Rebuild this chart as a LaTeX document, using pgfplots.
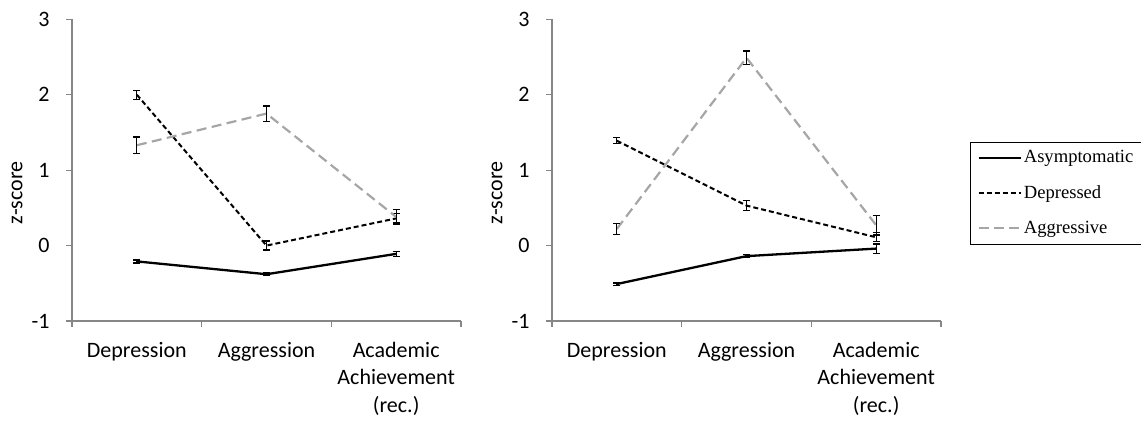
\documentclass[border=0pt]{standalone}
\usepackage{pgfplots}
\pgfplotsset{compat=1.18}
\usepackage{fontspec}
\setmainfont{Carlito}
\newfontfamily\legfont{Liberation Serif}
\definecolor{axgray}{HTML}{868686}
\definecolor{aggray}{HTML}{A6A6A6}

\pgfplotsset{
 panel/.style={
  scale only axis, width=194.5pt, height=150.85pt,
  xmin=0.5, xmax=3.5, ymin=-1, ymax=3,
  axis lines*=left,
  axis line style={axgray, line width=0.6pt},
  xtick={1,2,3},
  xticklabels={Depression, Aggression, Academic\\Achievement\\(rec.)},
  minor xtick={0.5,1.5,2.5,3.5},
  ytick={-1,0,1,2,3}, yticklabels={-1,0,1,2,3},
  tick align=outside,
  tick style={axgray, line width=0.6pt},
  major tick length=3pt, minor tick length=3pt,
  major x tick style={draw=none},
  ticklabel style={font=\fontsize{11}{13.7}\selectfont},
  xticklabel style={align=center, anchor=north, yshift=-4pt},
  ylabel={z-score},
  ylabel style={font=\fontsize{11}{13}\selectfont, at={(axis description cs:-0.1414,0.424)}, anchor=center},
  clip=false,
 },
 eb/.style={error bars/.cd, y dir=both, y explicit,
   error bar style={black, solid, line width=0.6pt},
   error mark options={rotate=90, mark size=1.8pt, black, solid, line width=0.6pt}},
 asym/.style={black, solid, line width=1.15pt, no marks, eb},
 dep/.style={black, line width=1pt, dash pattern=on 2.5pt off 1.5pt, no marks, eb},
 agg/.style={aggray, line width=1.1pt, dash pattern=on 5pt off 2.7pt, no marks, eb},
}

\begin{document}
\begin{tikzpicture}
\path[use as bounding box] (0pt,0pt) rectangle (570.5pt,211pt);

\begin{axis}[panel, at={(36pt,50.5pt)}, anchor=south west,
  every y tick label/.append style={anchor=east, inner xsep=8pt}]
\addplot+[asym] coordinates {(1,-0.21) +- (0,0.02) (2,-0.38) +- (0,0.02) (3,-0.11) +- (0,0.03)};
\addplot+[dep] coordinates {(1,2.00) +- (0,0.06) (2,0.00) +- (0,0.06) (3,0.36) +- (0,0.06)};
\addplot+[agg] coordinates {(1,1.33) +- (0,0.11) (2,1.75) +- (0,0.10) (3,0.38) +- (0,0.10)};
\end{axis}

\begin{axis}[panel, at={(276pt,50.5pt)}, anchor=south west,
  every y tick label/.append style={anchor=east, inner xsep=8pt},
  legend cell align=left,
  legend style={at={(axis description cs:1.0746,0.5933)}, anchor=north west,
    draw=black, line width=0.5pt, font=\legfont\fontsize{9.3}{11}\selectfont,
    row sep=7.75pt, inner xsep=3.5pt, inner ysep=3pt,
    nodes={inner sep=1pt, text=black}},
  legend image code/.code={\draw[#1] (0pt,0pt) -- (21pt,0pt);},
]
\addplot+[asym] coordinates {(1,-0.51) +- (0,0.015) (2,-0.14) +- (0,0.02) (3,-0.04) +- (0,0.06)};
\addplot+[dep] coordinates {(1,1.39) +- (0,0.04) (2,0.53) +- (0,0.07) (3,0.11) +- (0,0.06)};
\addplot+[agg] coordinates {(1,0.22) +- (0,0.07) (2,2.49) +- (0,0.09) (3,0.27) +- (0,0.13)};
\legend{Asymptomatic, Depressed, Aggressive}
\end{axis}
\end{tikzpicture}
\end{document}
